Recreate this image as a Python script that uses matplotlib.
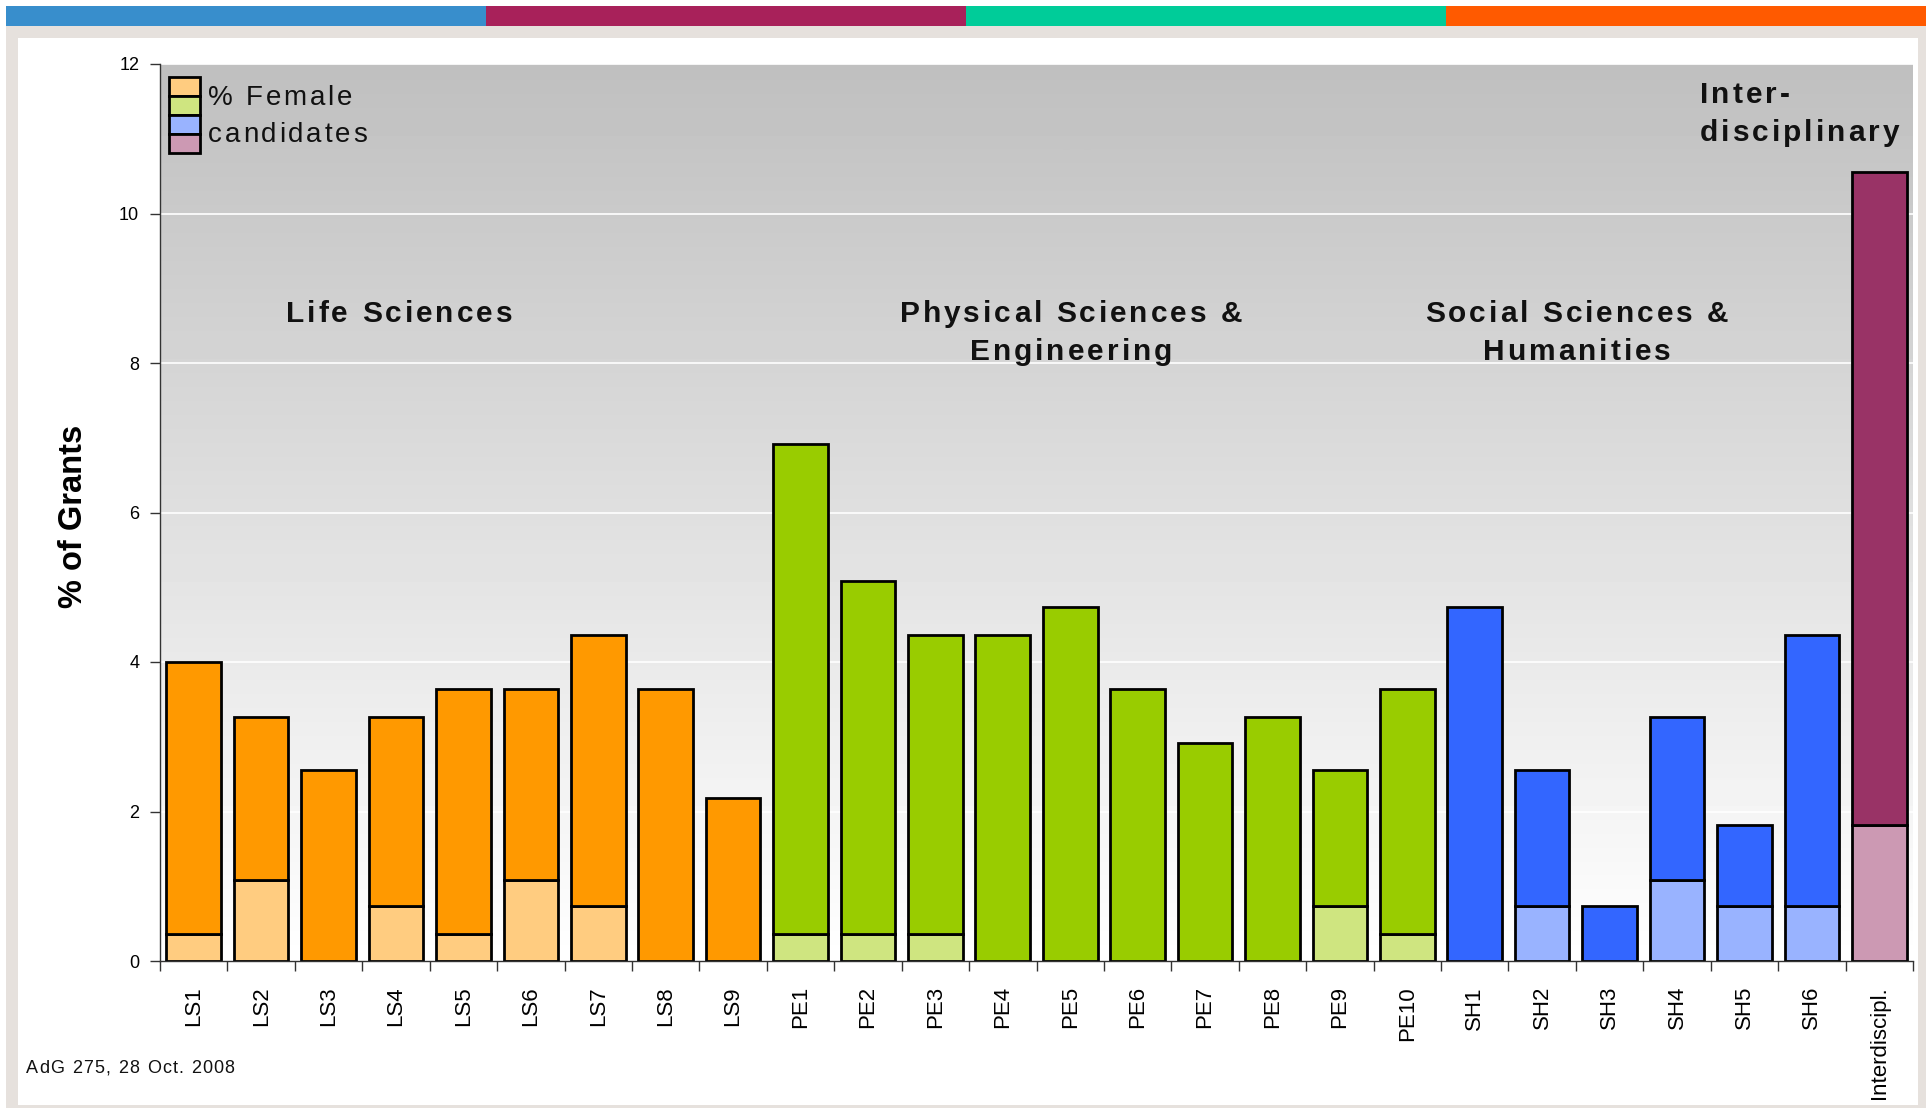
import numpy as np
import matplotlib
matplotlib.use("Agg")
import matplotlib.pyplot as plt
from matplotlib.patches import Rectangle
from matplotlib.font_manager import FontProperties
from matplotlib.textpath import text_to_path

# ---------------- data ----------------
categories = ["LS1", "LS2", "LS3", "LS4", "LS5", "LS6", "LS7", "LS8", "LS9",
              "PE1", "PE2", "PE3", "PE4", "PE5", "PE6", "PE7", "PE8", "PE9", "PE10",
              "SH1", "SH2", "SH3", "SH4", "SH5", "SH6", "Interdiscipl."]
groups = ["LS"] * 9 + ["PE"] * 10 + ["SH"] * 6 + ["ID"]
total_pct = [4.00, 3.27, 2.55, 3.27, 3.64, 3.64, 4.36, 3.64, 2.18,
             6.91, 5.09, 4.36, 4.36, 4.73, 3.64, 2.91, 3.27, 2.55, 3.64,
             4.73, 2.55, 0.73, 3.27, 1.82, 4.36, 10.55]
female_pct = [0.36, 1.09, 0.00, 0.73, 0.36, 1.09, 0.73, 0.00, 0.00,
              0.36, 0.36, 0.36, 0.00, 0.00, 0.00, 0.00, 0.00, 0.73, 0.36,
              0.00, 0.73, 0.00, 1.09, 0.73, 0.73, 1.82]
yticks = [0, 2, 4, 6, 8, 10, 12]
group_titles = ["Life Sciences", "Physical Sciences &\nEngineering",
                "Social Sciences &\nHumanities", "Inter-\ndisciplinary"]

dark_colors = {"LS": "#FF9900", "PE": "#99CC00", "SH": "#3366FF", "ID": "#993366"}
light_colors = {"LS": "#FFCC80", "PE": "#CFE580", "SH": "#99B3FF", "ID": "#CC99B3"}

FONT = "Liberation Sans"
plt.rcParams["font.family"] = [FONT, "DejaVu Sans"]

W, H = 1930, 1108
DPI = 100
fig = plt.figure(figsize=(W / DPI, H / DPI), dpi=DPI)
fig.patch.set_facecolor("white")


def fx(px):
    return px / W


def fy(py):
    return 1 - py / H


def tracked(s, px_x, px_y, size, track_px, weight="normal", ha="left", color="#111111"):
    """Draw text with letter spacing; px_x/px_y are figure pixel coords (y from top), baseline."""
    fp = FontProperties(family=FONT, size=size, weight=weight)

    def wid(t):
        w, _, _ = text_to_path.get_text_width_height_descent(t + "|", fp, ismath=False)
        w0, _, _ = text_to_path.get_text_width_height_descent("|", fp, ismath=False)
        return (w - w0) * DPI / 72.0

    total = wid(s) + track_px * (len(s) - 1)
    if ha == "center":
        start = px_x - total / 2
    elif ha == "right":
        start = px_x - total
    else:
        start = px_x
    for i, ch in enumerate(s):
        if ch == " ":
            continue
        off = wid(s[:i]) + track_px * i
        fig.text(fx(start + off), fy(px_y), ch, fontproperties=fp, ha="left",
                 va="baseline", color=color, zorder=10)


# ---------- decorative frame ----------
strip_cols = ["#388ECC", "#A8215A", "#00CC99", "#FF5A00"]
x0, x1 = 6, 1926
seg = (x1 - x0) / 4
for i, c in enumerate(strip_cols):
    fig.add_artist(Rectangle((fx(x0 + i * seg), fy(26)), fx(seg), 20 / H,
                             transform=fig.transFigure, facecolor=c, edgecolor="none", zorder=0))
fig.add_artist(Rectangle((fx(6), fy(1108)), fx(1920), (1108 - 26) / H,
                         transform=fig.transFigure, facecolor="#E6E1DD", edgecolor="none", zorder=0))
fig.add_artist(Rectangle((fx(18), fy(1105)), fx(1900), (1105 - 38) / H,
                         transform=fig.transFigure, facecolor="white", edgecolor="none", zorder=0))

# ---------- axes ----------
ax_l, ax_r, ax_t, ax_b = 160, 1913, 64, 961
ax = fig.add_axes([fx(ax_l), fy(ax_b), (ax_r - ax_l) / W, (ax_b - ax_t) / H])
ax.set_facecolor("none")
ax.set_zorder(2)

n = len(categories)
x = np.arange(n)

# gradient background (grey at top to white at bottom)
grad = np.linspace(0.75, 1.0, 256).reshape(-1, 1)
ax.imshow(grad, extent=(-0.5, n - 0.5, 0, 12), origin="upper", cmap="gray", vmin=0, vmax=1,
          aspect="auto", zorder=0, interpolation="bilinear")
ax.set_xlim(-0.5, n - 0.5)
ax.set_ylim(0, 12)

for yv in yticks[1:]:
    ax.axhline(yv, color="white", lw=1.2, zorder=1)

tot = np.array(total_pct)
fem = np.array(female_pct)
dark = [dark_colors[g] for g in groups]
light = [light_colors[g] for g in groups]
bw = 0.81
ax.bar(x, fem, width=bw, color=light, edgecolor="black", linewidth=2.0, zorder=3)
ax.bar(x, tot - fem, bottom=fem, width=bw, color=dark, edgecolor="black", linewidth=2.0, zorder=3)

# axes styling
for s in ["top", "right"]:
    ax.spines[s].set_visible(False)
for s in ["left", "bottom"]:
    ax.spines[s].set_color("#333333")
    ax.spines[s].set_linewidth(1.0)
    ax.spines[s].set_zorder(4)

ax.set_yticks(yticks)
ax.set_yticklabels([str(v) for v in yticks], fontsize=13)
ax.tick_params(axis="y", length=7, width=1, color="#333333", pad=8)
ax.set_xticks(x)
ax.set_xticklabels(categories, rotation=90, fontsize=16)
ax.tick_params(axis="x", which="major", length=0, pad=18)
ax.set_xticks(np.arange(-0.5, n, 1), minor=True)
ax.tick_params(axis="x", which="minor", length=7, width=1, color="#333333")

# legend (manual)
leg_cols = [light_colors[k] for k in ["LS", "PE", "SH", "ID"]]
lx0, lx1 = (169 - ax_l) / (ax_r - ax_l), (200 - ax_l) / (ax_r - ax_l)
top = 77
hh = 19
for i, c in enumerate(leg_cols):
    yb = 1 - (top + (i + 1) * hh - ax_t) / (ax_b - ax_t)
    ax.add_patch(Rectangle((lx0, yb), lx1 - lx0, hh / (ax_b - ax_t), transform=ax.transAxes,
                           facecolor=c, edgecolor="black", linewidth=2.0, zorder=5))
tracked("% Female", 208, 105, 20, 2.7)
tracked("candidates", 208, 142, 20, 2.7)

# group titles (centres / baselines in figure pixels)
title_pos = [(399, 322, "center"), (1071, 322, "center"), (1577, 322, "center"), (1700, 103, "left")]
for (cx, by, ha), t in zip(title_pos, group_titles):
    for k, line in enumerate(t.split("\n")):
        tracked(line, cx, by + 38 * k, 21.5, 3.0, weight="bold", ha=ha)

# y label and footer
fig.text(fx(73), fy(516), "% of Grants", rotation=90, ha="center", va="center",
         fontsize=23.5, fontweight="bold", color="black")
tracked("AdG 275, 28 Oct. 2008", 26, 1073, 13, 1.2)

fig.savefig("out.png", dpi=DPI, facecolor="white")
